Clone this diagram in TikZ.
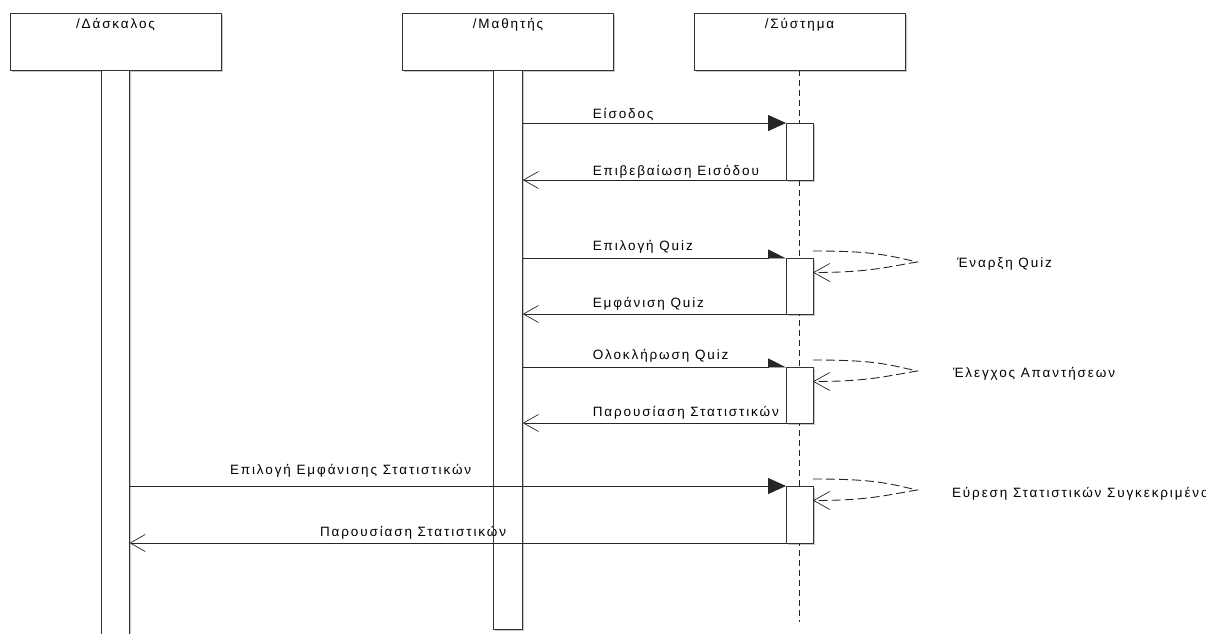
\documentclass[tikz,border=0pt]{standalone}
\usepackage{fontspec}
\setmainfont{Liberation Sans}[LetterSpace=14]
\usetikzlibrary{arrows.meta,calc,shadows}

\begin{document}
\begin{tikzpicture}[x=1pt,y=-1pt,
  every node/.style={font=\fontsize{13.5pt}{16pt}\selectfont, text=black, inner sep=0pt, outer sep=0pt},
  boxshade/.style={drop shadow={shadow xshift=1.5pt, shadow yshift=-1.5pt, opacity=0.22, fill=black}},
  headbox/.style={draw=black!80, line width=1pt, fill=white, minimum width=211pt, minimum height=56.5pt, boxshade},
  lifebar/.style={draw=black!80, line width=1pt, fill=white, anchor=north, boxshade},
  actbox/.style={draw=black!80, line width=1pt, fill=white, minimum width=27pt, anchor=north, boxshade},
  lifeline/.style={draw=black!85, line width=1.2pt, dash pattern=on 6pt off 4pt},
  call/.style={draw=black!85, line width=0.8pt, -{Triangle[length=18pt,width=16pt]}},
  halfcall/.style={draw=black!85, line width=0.8pt, -{Triangle[length=17pt,width=17pt,left]}},
  reply/.style={draw=black!85, line width=0.8pt, -{Straight Barb[length=15pt,width=17pt,line width=0.7pt]}},
  selfcall/.style={draw=black!85, line width=0.9pt, dash pattern=on 9pt off 4pt, -{Straight Barb[length=16pt,width=18pt,line width=0.7pt]}},
  msglabel/.style={anchor=base west},
]
\useasboundingbox (0,0) rectangle (1206,633);
\clip (0,0) rectangle (1206,633);

% participant heads
\node[headbox] (tbox) at (115.5,41.75) {};
\node[headbox] (mbox) at (508,41.75) {};
\node[headbox] (sbox) at (799.5,41.75) {};
\node[anchor=base] (tname) at ($(tbox.north)+(0,14.5)$) {/Δάσκαλος};
\node[anchor=base] (mname) at ($(mbox.north)+(0,14.5)$) {/Μαθητής};
\node[anchor=base] (sname) at ($(sbox.north)+(0,14.5)$) {/Σύστημα};

% lifelines
\node[lifebar, minimum width=28pt, minimum height=590pt] (tbar) at (tbox.south) {};
\node[lifebar, minimum width=29.5pt, minimum height=559pt] (mbar) at (mbox.south) {};
\coordinate (send) at ($(sbox.south)+(0,552)$);
\draw[lifeline] (sbox.south) -- (send);

% activations of the system
\node[actbox, minimum height=57pt] (act1) at (sbox.south |- 0,123) {};
\node[actbox, minimum height=56pt] (act2) at (sbox.south |- 0,258) {};
\node[actbox, minimum height=56pt] (act3) at (sbox.south |- 0,367) {};
\node[actbox, minimum height=57pt] (act4) at (sbox.south |- 0,486) {};

% login
\draw[call] (mbar.east |- act1.north) -- (act1.north west);
\node[msglabel] (m1) at ($(mbar.east |- act1.north)+(70,-5)$) {Είσοδος};
\draw[reply] (act1.south west) -- (mbar.east |- act1.south);
\node[msglabel] (m2) at ($(mbar.east |- act1.south)+(70,-5)$) {Επιβεβαίωση Εισόδου};

% quiz selection
\draw[halfcall] (mbar.east |- act2.north) -- (act2.north west);
\node[msglabel] (m3) at ($(mbar.east |- act2.north)+(70,-8)$) {Επιλογή Quiz};
\draw[reply] (act2.south west) -- (mbar.east |- act2.south);
\node[msglabel] (m4) at ($(mbar.east |- act2.south)+(70,-7)$) {Εμφάνιση Quiz};
\coordinate (s2a) at ($(act2.north east)+(0,-7)$);
\coordinate (s2b) at ($(act2.north east)+(104,4)$);
\coordinate (s2c) at ($(act2.north east)+(0,14.5)$);
\draw[selfcall] (s2a) .. controls +(60,0) and +(-30,-7) .. (s2b) .. controls +(-30,5) and +(55,0) .. (s2c);
\node[msglabel] (n2) at ($(act2.north east)+(144,9)$) {Έναρξη Quiz};

% quiz completion
\draw[halfcall] (mbar.east |- act3.north) -- (act3.north west);
\node[msglabel] (m5) at ($(mbar.east |- act3.north)+(70,-8)$) {Ολοκλήρωση Quiz};
\draw[reply] (act3.south west) -- (mbar.east |- act3.south);
\node[msglabel] (m6) at ($(mbar.east |- act3.south)+(70,-7)$) {Παρουσίαση Στατιστικών};
\coordinate (s3a) at ($(act3.north east)+(0,-7)$);
\coordinate (s3b) at ($(act3.north east)+(104,4)$);
\coordinate (s3c) at ($(act3.north east)+(0,14.5)$);
\draw[selfcall] (s3a) .. controls +(60,0) and +(-30,-7) .. (s3b) .. controls +(-30,5) and +(55,0) .. (s3c);
\node[msglabel] (n3) at ($(act3.north east)+(140,10)$) {Έλεγχος Απαντήσεων};

% statistics for the teacher
\draw[call] (tbar.east |- act4.north) -- (act4.north west);
\node[msglabel] (m7) at ($(tbar.east |- act4.north)+(100.5,-12)$) {Επιλογή Εμφάνισης Στατιστικών};
\draw[reply] (act4.south west) -- (tbar.east |- act4.south);
\node[msglabel] (m8) at ($(tbar.east |- act4.south)+(190.5,-7)$) {Παρουσίαση Στατιστικών};
\coordinate (s4a) at ($(act4.north east)+(0,-7)$);
\coordinate (s4b) at ($(act4.north east)+(104,4)$);
\coordinate (s4c) at ($(act4.north east)+(0,14.5)$);
\draw[selfcall] (s4a) .. controls +(60,0) and +(-30,-7) .. (s4b) .. controls +(-30,5) and +(55,0) .. (s4c);
\node[msglabel] (n4) at ($(act4.north east)+(139,11)$) {Εύρεση Στατιστικών Συγκεκριμένου};
\end{tikzpicture}
\end{document}
